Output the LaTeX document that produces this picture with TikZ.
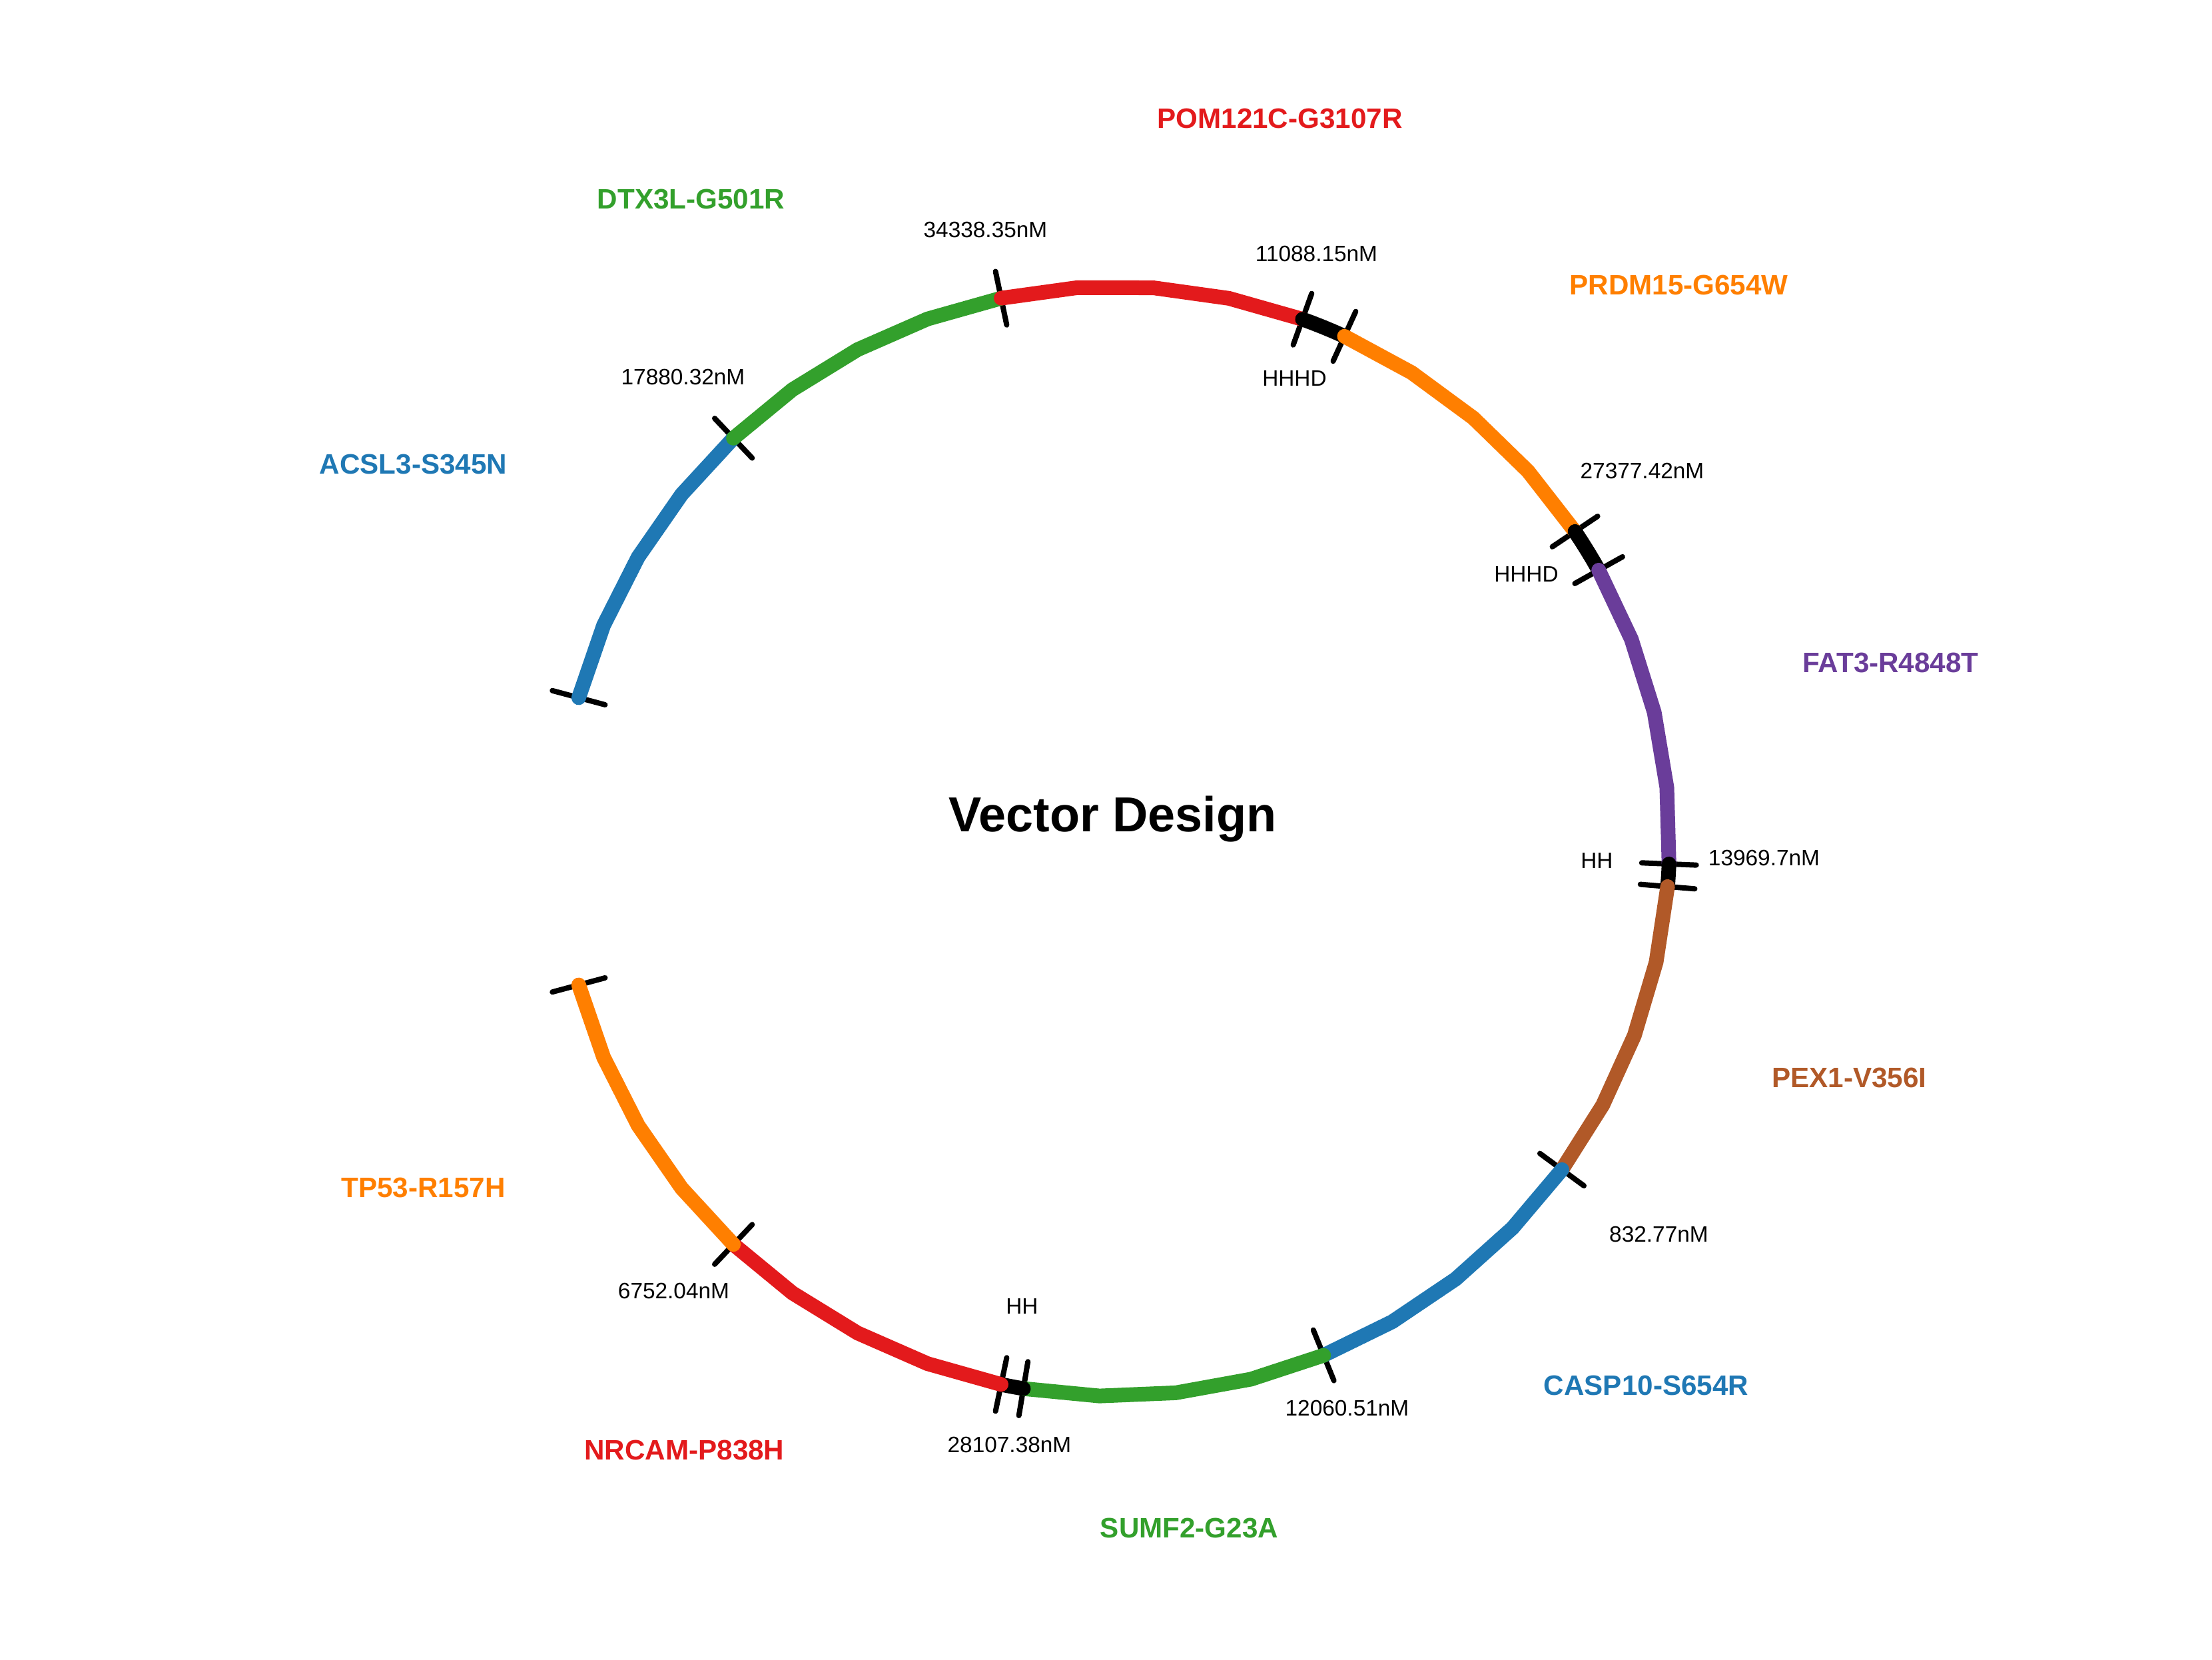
\documentclass[tikz,border=0pt]{standalone}
\usepackage{fontspec}
\setmainfont{Liberation Sans}
\usepackage{xcolor}
\usepackage{tikz}
\usetikzlibrary{calc}

\definecolor{cblue}{HTML}{1F78B4}
\definecolor{cgreen}{HTML}{33A02C}
\definecolor{cred}{HTML}{E31A1C}
\definecolor{corange}{HTML}{FF7F00}
\definecolor{cpurple}{HTML}{6A3D9A}
\definecolor{cbrown}{HTML}{B15928}

\begin{document}
\begin{tikzpicture}[
    seg/.style={line width=0.22cm, line cap=round, line join=round},
    tickmark/.style={line width=0.08cm, line cap=round},
    gene/.style={font=\fontsize{12}{14}\selectfont\bfseries},
    conc/.style={font=\fontsize{9.5}{11}\selectfont},
    linker/.style={font=\fontsize{9.5}{11}\selectfont}
]
    \def\R{8.33}
    \fill[white] (-16.735,-12.29) rectangle (16.475,12.63);
    \useasboundingbox (-16.735,-12.29) rectangle (16.475,12.63);

    % Junctions
    \foreach \n/\a in {0/165, 1/133.4043, 2/101.8085, 3/70.2128, 4/65.5319,
        5/33.9362, 6/29.2553, 7/-2.3404, 8/-4.6809, 9/-36.2766, 10/-67.8723,
        11/-99.4681, 12/-101.8085, 13/-133.4043, 14/-165}
        \coordinate (j\n) at (\a:\R);

    % Ticks
    \foreach \a in {165, 133.4043, 101.8085, 70.2128, 65.5319, 33.9362, 29.2553,
        -2.3404, -4.6809, -36.2766, -67.8723, -99.4681, -101.8085, -133.4043, -165}
        \draw[tickmark] ({\a}:{\R-0.41}) -- ({\a}:{\R+0.41});

    % Segments
    \foreach \s/\e/\a/\b/\c in {0/1/165/133.4043/cblue, 1/2/133.4043/101.8085/cgreen,
        2/3/101.8085/70.2128/cred, 3/4/70.2128/65.5319/black,
        4/5/65.5319/33.9362/corange, 5/6/33.9362/29.2553/black,
        6/7/29.2553/-2.3404/cpurple, 7/8/-2.3404/-4.6809/black,
        8/9/-4.6809/-36.2766/cbrown, 9/10/-36.2766/-67.8723/cblue,
        10/11/-67.8723/-99.4681/cgreen, 11/12/-99.4681/-101.8085/black,
        12/13/-101.8085/-133.4043/cred, 13/14/-133.4043/-165/corange} {
        \pgfmathsetmacro\d{(\a-\b)/4}
        \draw[seg, \c] (j\s) -- ({\a-\d}:\R) -- ({\a-2*\d}:\R)
            -- ({\a-3*\d}:\R) -- (j\e);
    }

    % Gene labels
    \node[gene, cred] (pom) at (2.48, 10.85) {POM121C-G3107R};
    \node[gene, cgreen] (dtx) at (-6.36, 9.64) {DTX3L-G501R};
    \node[gene, cblue] (acsl) at (-10.53, 5.66) {ACSL3-S345N};
    \node[gene, corange] (prdm) at (8.47, 8.35) {PRDM15-G654W};
    \node[gene, cpurple] (fat) at (11.65, 2.68) {FAT3-R4848T};
    \node[gene, cbrown] (pex) at (11.03, -3.55) {PEX1-V356I};
    \node[gene, cblue] (casp) at (7.98, -8.17) {CASP10-S654R};
    \node[gene, cgreen] (sumf) at (1.12, -10.31) {SUMF2-G23A};
    \node[gene, cred] (nrcam) at (-6.46, -9.14) {NRCAM-P838H};
    \node[gene, corange] (tp) at (-10.38, -5.20) {TP53-R157H};

    % Concentrations
    \node[conc] (c1) at (-6.48, 6.97) {17880.32nM};
    \node[conc] (c2) at (-1.94, 9.18) {34338.35nM};
    \node[conc] (c3) at (3.03, 8.82) {11088.15nM};
    \node[conc] (c4) at (7.92, 5.56) {27377.42nM};
    \node[conc] (c5) at (9.75, -0.25) {13969.7nM};
    \node[conc] (c6) at (8.17, -5.90) {832.77nM};
    \node[conc] (c7) at (3.49, -8.51) {12060.51nM};
    \node[conc] (c8) at (-1.58, -9.06) {28107.38nM};
    \node[conc] (c9) at (-6.62, -6.75) {6752.04nM};

    % Linkers
    \node[linker] (l1) at (2.70, 6.95) {HHHD};
    \node[linker] (l2) at (6.18, 4.01) {HHHD};
    \node[linker] (l3) at (7.24, -0.29) {HH};
    \node[linker] (l4) at (-1.39, -6.98) {HH};

    % Title
    \node[font=\fontsize{21}{25}\selectfont\bfseries, anchor=base] (title) at (-0.03, 0.14) {Vector Design};
\end{tikzpicture}
\end{document}
